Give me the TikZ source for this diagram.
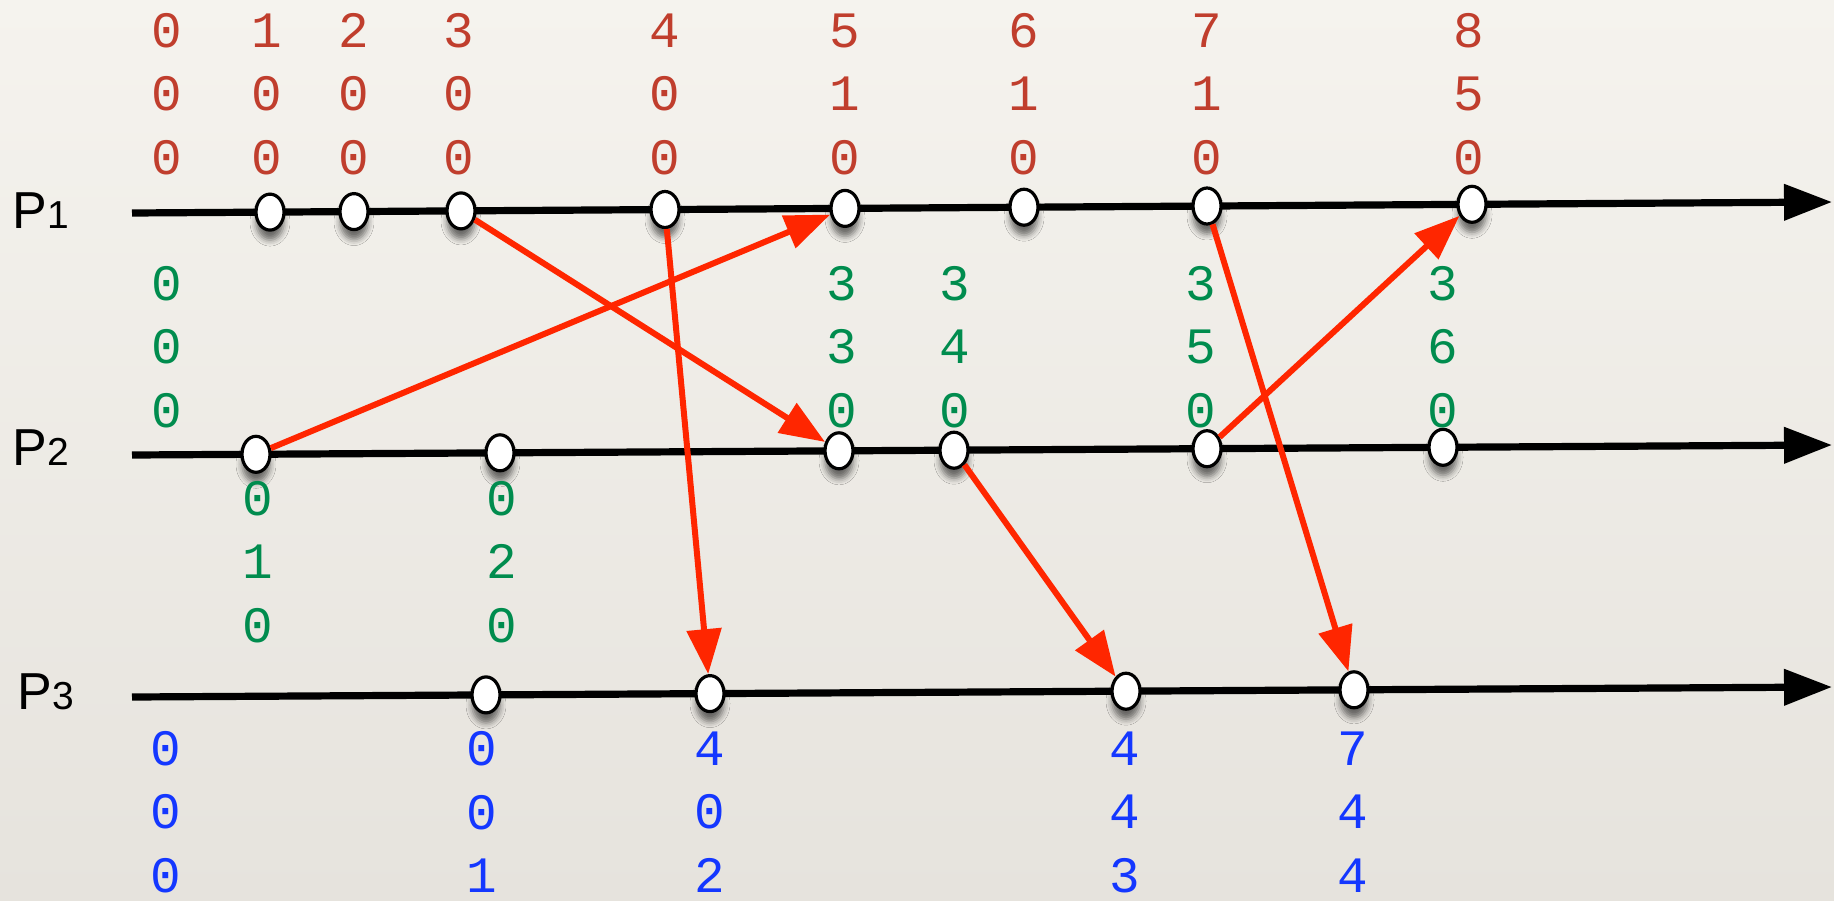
\documentclass[tikz,border=0pt]{standalone}
\usepackage{fontspec}
\setmainfont{Liberation Sans}
\newfontfamily\digitfont{Liberation Mono}
\usetikzlibrary{arrows.meta,shapes.geometric,shadows.blur}
\definecolor{bgtop}{RGB}{245,243,238}
\definecolor{bgbot}{RGB}{230,227,221}
\definecolor{vred}{RGB}{192,62,45}
\definecolor{vgreen}{RGB}{0,140,78}
\definecolor{vblue}{RGB}{20,55,255}
\definecolor{msgred}{RGB}{255,38,0}
\tikzset{
  evt/.style={ellipse, draw=black, line width=1.6pt, fill=white,
    minimum width=14pt, minimum height=18pt, inner sep=0pt,
    blur shadow={shadow xshift=0pt, shadow yshift=-5pt, shadow blur radius=3pt, shadow opacity=55}},
  timeline/.style={draw=black, line width=3.6pt, -{Triangle[length=24pt,width=17.5pt]}},
  msg/.style={draw=msgred, line width=3pt, -{Triangle[length=22.5pt,width=17pt]}},
  vec/.style={font=\digitfont\fontsize{25.5}{31.75}\selectfont, align=center, inner sep=0pt},
  redvec/.style={vec, text=vred},
  greenvec/.style={vec, text=vgreen},
  bluevec/.style={vec, text=vblue},
  plabel/.style={anchor=base west, inner sep=0pt, font=\fontsize{26}{30}\selectfont}
}
\newcommand{\psub}[1]{{\fontsize{19.5}{20}\selectfont #1}}
\begin{document}
\begin{tikzpicture}[x=0.5pt,y=-0.5pt]
\useasboundingbox (0,0) rectangle (1834,900);
\fill[top color=bgtop,bottom color=bgbot] (0,0) rectangle (1834,900);

% process labels
\node[plabel] (lp1) at (12,228) {P\psub{1}};
\node[plabel] (lp2) at (12,465) {P\psub{2}};
\node[plabel] (lp3) at (17,709) {P\psub{3}};

% timelines
\coordinate (p1s) at (132,213); \coordinate (p1e) at (1832,202);
\coordinate (p2s) at (132,455); \coordinate (p2e) at (1832,445);
\coordinate (p3s) at (132,697); \coordinate (p3e) at (1832,687);
\draw[timeline] (p1s) -- (p1e);
\draw[timeline] (p2s) -- (p2e);
\draw[timeline] (p3s) -- (p3e);

% events P1
\node[evt] (a1) at (270,212.1) {};
\node[evt] (a2) at (354,211.6) {};
\node[evt] (a3) at (461,210.9) {};
\node[evt] (a4) at (665,209.5) {};
\node[evt] (a5) at (845,208.4) {};
\node[evt] (a6) at (1024,207.2) {};
\node[evt] (a7) at (1207,206.0) {};
\node[evt] (a8) at (1472,204.3) {};
% events P2
\node[evt] (b1) at (256,454.3) {};
\node[evt] (b2) at (500,452.8) {};
\node[evt] (b3) at (839,450.8) {};
\node[evt] (b4) at (954,450.2) {};
\node[evt] (b5) at (1207,448.7) {};
\node[evt] (b6) at (1443,447.3) {};
% events P3
\node[evt] (c1) at (486,694.9) {};
\node[evt] (c2) at (710,693.6) {};
\node[evt] (c3) at (1126,691.2) {};
\node[evt] (c4) at (1354,689.8) {};

% messages
\draw[msg] (a3) -- (b3);
\draw[msg] (a4) -- (c2);
\draw[msg] (b1) -- (a5);
\draw[msg] (b4) -- (c3);
\draw[msg] (b5) -- (a8);
\draw[msg] (a7) -- (c4);

% P1 vectors
\node[redvec] (r0) at (167,94) {0\\0\\0};
\node[redvec] (r1) at (267,94) {1\\0\\0};
\node[redvec] (r2) at (354,94) {2\\0\\0};
\node[redvec] (r3) at (459,94) {3\\0\\0};
\node[redvec] (r4) at (665,94) {4\\0\\0};
\node[redvec] (r5) at (845,94) {5\\1\\0};
\node[redvec] (r6) at (1024,94) {6\\1\\0};
\node[redvec] (r7) at (1207,94) {7\\1\\0};
\node[redvec] (r8) at (1469,94) {8\\5\\0};

% P2 vectors
\node[greenvec] (g0) at (167,347) {0\\0\\0};
\node[greenvec] (g3) at (842,347) {3\\3\\0};
\node[greenvec] (g4) at (955,347) {3\\4\\0};
\node[greenvec] (g5) at (1201,347) {3\\5\\0};
\node[greenvec] (g6) at (1443,347) {3\\6\\0};
\node[greenvec] (g1) at (258,562) {0\\1\\0};
\node[greenvec] (g2) at (502,562) {0\\2\\0};

% P3 vectors
\node[bluevec] (q0) at (166,812) {0\\0\\0};
\node[bluevec] (q1) at (482,812) {0\\0\\1};
\node[bluevec] (q2) at (710,812) {4\\0\\2};
\node[bluevec] (q3) at (1125,812) {4\\4\\3};
\node[bluevec] (q4) at (1353,812) {7\\4\\4};
\end{tikzpicture}
\end{document}
